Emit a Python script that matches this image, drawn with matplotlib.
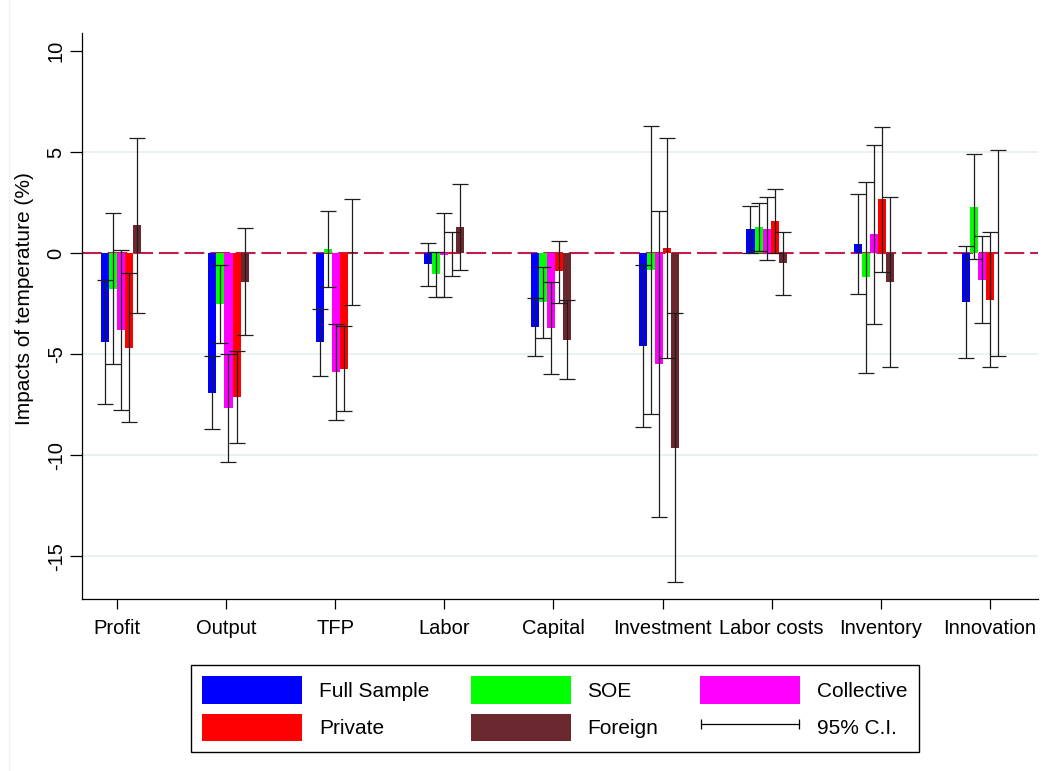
import matplotlib
matplotlib.use("Agg")
import matplotlib.pyplot as plt
import numpy as np
from matplotlib.patches import Patch
from matplotlib.lines import Line2D
from matplotlib.legend_handler import HandlerLine2D

plt.rcParams['font.family'] = ['Liberation Sans', 'DejaVu Sans']

categories = ["Profit", "Output", "TFP", "Labor", "Capital", "Investment",
              "Labor costs", "Inventory", "Innovation"]
series = ["Full Sample", "SOE", "Collective", "Private", "Foreign"]
colors = ["#0000FF", "#00FF00", "#FF00FF", "#FF0000", "#6B272E"]

# point estimates per series (same order as categories)
full_est = [-4.41, -6.90, -4.40, -0.55, -3.64, -4.58, 1.20, 0.45, -2.41]
soe_est = [-1.75, -2.49, 0.21, -1.04, -2.43, -0.83, 1.31, -1.19, 2.31]
coll_est = [-3.80, -7.66, -5.88, -0.07, -3.70, -5.48, 1.22, 0.93, -1.30]
priv_est = [-4.68, -7.10, -5.71, -0.03, -0.90, 0.27, 1.60, 2.67, -2.30]
forn_est = [1.39, -1.41, 0.06, 1.31, -4.27, -9.62, -0.50, -1.43, 0.02]

# 95% confidence interval bounds
full_lo = [-7.48, -8.71, -6.05, -1.62, -5.08, -8.60, 0.03, -2.03, -5.16]
full_hi = [-1.34, -5.08, -2.74, 0.51, -2.19, -0.56, 2.36, 2.92, 0.35]
soe_lo = [-5.48, -4.42, -1.68, -2.16, -4.19, -7.96, 0.13, -5.92, -0.26]
soe_hi = [1.98, -0.56, 2.10, 0.08, -0.66, 6.30, 2.49, 3.55, 4.89]
coll_lo = [-7.74, -10.33, -8.27, -2.16, -5.99, -13.05, -0.35, -3.51, -3.45]
coll_hi = [0.15, -4.98, -3.50, 2.01, -1.42, 2.10, 2.79, 5.38, 0.86]
priv_lo = [-8.37, -9.37, -7.82, -1.12, -2.44, -5.16, 0.03, -0.92, -5.64]
priv_hi = [-0.99, -4.83, -3.60, 1.07, 0.63, 5.69, 3.18, 6.27, 1.04]
forn_lo = [-2.94, -4.06, -2.56, -0.83, -6.24, -16.27, -2.06, -5.64, -5.10]
forn_hi = [5.71, 1.24, 2.69, 3.45, -2.31, -2.97, 1.07, 2.79, 5.13]

yticks = [10, 5, 0, -5, -10, -15]
ytick_labels = ["10", "5", "0", "-5", "-10", "-15"]

estimates = [full_est, soe_est, coll_est, priv_est, forn_est]
lows = [full_lo, soe_lo, coll_lo, priv_lo, forn_lo]
highs = [full_hi, soe_hi, coll_hi, priv_hi, forn_hi]

W, H = 1055, 771
fig = plt.figure(figsize=(W / 100, H / 100), dpi=100)
ax = fig.add_axes([81.5 / W, 1 - 599 / H, (1037.7 - 81.5) / W, (599 - 33) / H])

x = np.arange(len(categories))
bw = 0.0745
for k, (est, lo, hi, col) in enumerate(zip(estimates, lows, highs, colors)):
    xs = x + (k - 2) * bw
    est = np.array(est)
    ax.bar(xs, est, width=bw, color=col, linewidth=0, zorder=3)
    yerr = np.vstack([est - np.array(lo), np.array(hi) - est])
    ax.errorbar(xs, est, yerr=yerr, fmt='none', ecolor='#1e1e1e',
                elinewidth=0.9, capsize=5.5, capthick=0.9, zorder=4)

for g in [5, -5, -10, -15]:
    ax.axhline(g, color='#E8F0F1', lw=1.3, zorder=0)
ax.axhline(0, color='#C01C4C', lw=1.5, ls=(0, (9.5, 2.8)), zorder=2)

ax.set_xlim(-0.366, 8.52)
ax.set_ylim(-17.11, 10.9)
ax.set_yticks(yticks)
ax.set_yticklabels(ytick_labels, rotation=90, va='center', fontsize=14.5)
ax.set_xticks(-0.036 + x * 1.0139)
ax.set_xticklabels(categories, fontsize=14.5)
ax.tick_params(axis='y', length=8.4, width=0.9, pad=3)
ax.tick_params(axis='x', length=7.2, width=0.9, pad=7)
for s in ['top', 'right']:
    ax.spines[s].set_visible(False)
for s in ['left', 'bottom']:
    ax.spines[s].set_linewidth(0.9)

fig.text(24.5 / W, 1 - 298.5 / H, "Impacts of temperature (%)", rotation=90,
         ha='center', va='center', fontsize=15)

# faint outer frame line on the left
fig.add_artist(Line2D([8.5 / W, 8.5 / W], [0, 1], color='#EEF3F3', lw=1.0,
                      transform=fig.transFigure))

handles = [Patch(facecolor=c, edgecolor='none') for c in colors]
ci_handle = Line2D([], [], color='black', lw=0.9, marker='|', markersize=7.5,
                   markeredgewidth=0.9)
hs = [handles[0], handles[3], handles[1], handles[4], handles[2], ci_handle]
labels = [series[0], series[3], series[1], series[4], series[2], "95% C.I."]
leg = fig.legend(hs, labels, ncol=3, loc='upper left',
                 bbox_to_anchor=(190.7 / W, 1 - 665 / H), borderaxespad=0,
                 fontsize=15, handlelength=4.8, handleheight=1.63,
                 handletextpad=0.8, columnspacing=2.0, labelspacing=0.48,
                 borderpad=0.55, numpoints=2, fancybox=False, framealpha=1,
                 edgecolor='black',
                 handler_map={ci_handle: HandlerLine2D(marker_pad=0.05, numpoints=2)})
leg.get_frame().set_linewidth(1.0)

fig.savefig("out.png", dpi=100, facecolor='white')
